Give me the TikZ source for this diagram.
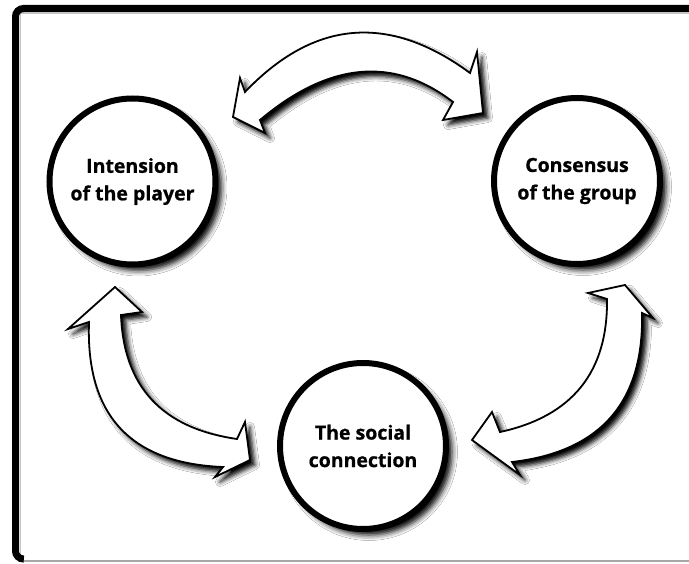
\documentclass[tikz,border=0pt]{standalone}
\usepackage{fontspec}
\setmainfont{Open Sans}
\usetikzlibrary{shadows.blur}
\begin{document}
\begin{tikzpicture}[x=1pt,y=-1pt,
  softshadow/.style={blur shadow={shadow xshift=5pt,shadow yshift=-5pt,shadow blur radius=4.5pt,shadow opacity=100}},
  roundshadow/.style={blur shadow={shadow xshift=6pt,shadow yshift=-6pt,shadow blur radius=5.5pt,shadow opacity=100}},
  stage/.style={circle, draw=black, line width=6pt, fill=white, minimum size=166pt,
    inner sep=0pt, align=center, roundshadow,
    font=\bfseries\addfontfeature{FakeBold=0.7}\fontsize{19.5}{27.5}\selectfont},
  blockarrow/.style={draw=black, line width=1.8pt, fill=white, line join=miter, softshadow},
  framerule/.style={line width=7pt, rounded corners=8pt}]
\useasboundingbox (0,0) rectangle (689,564);
\fill[white] (0,0) rectangle (689,564);

% outer frame: heavy top and left edges, light bottom edge
\draw[gray!45, line width=1.2pt] (20,13) -- (700,13);
\draw[gray!45, line width=1.2pt] (20.5,13) -- (20.5,556);
\draw[gray!70, line width=1.5pt] (18,561) -- (700,561);
\draw[framerule] (23,559) -- (15.5,559) -- (15.5,8.5) -- (720,8.5);

% the three stages
\node[stage] (player) at (132.5,181.5) {Intension\\of the player};
\node[stage] (group)  at (577,181)     {Consensus\\of the group};
\node[stage] (social) at (363,446)     {The social\\connection};

% double-headed curved block arrows
\path[blockarrow]
  (233,117) -- (240,78) -- (245,92)
  .. controls (314,19.7) and (389,13.3) .. (470,73)
  -- (477,52) -- (483,113) -- (443,120) -- (453,102)
  .. controls (393.3,56) and (329,62) .. (260,120)
  -- (265,133) -- cycle;

\path[blockarrow]
  (115,287) -- (142,312) -- (121,315)
  .. controls (123.7,387) and (162.3,428.3) .. (237,439)
  -- (245,422) -- (250,460) -- (215,477) -- (223,467)
  .. controls (130.3,463.3) and (85.7,415) .. (89,322)
  -- (68,329) -- cycle;

\path[blockarrow]
  (625,285) -- (653,318) -- (642,313)
  .. controls (644,402) and (600.7,451.7) .. (512,462)
  -- (520,475) -- (472,440) -- (492,412) -- (500,432)
  .. controls (572.3,416.3) and (608,372) .. (607,299)
  -- (588,293) -- cycle;
\end{tikzpicture}
\end{document}
